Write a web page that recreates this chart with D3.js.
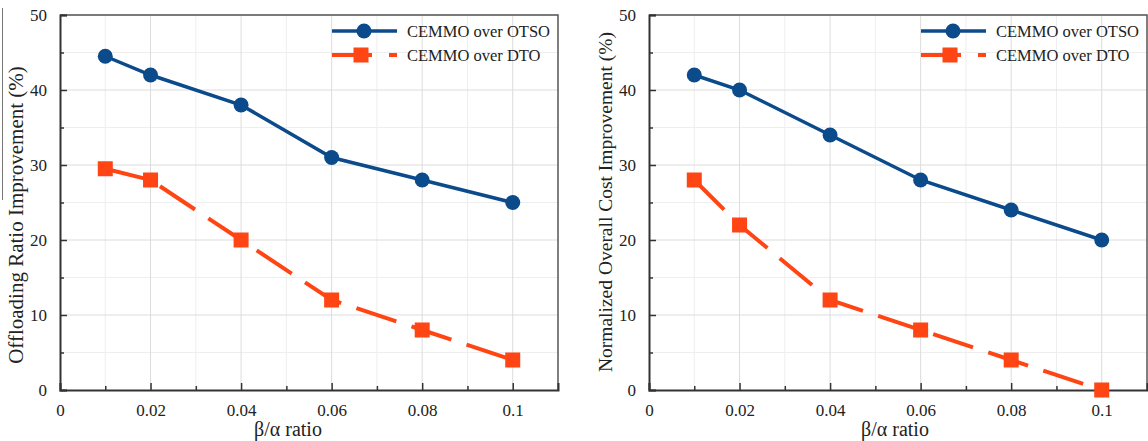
<!DOCTYPE html>
<html>
<head>
<meta charset="utf-8">
<script src="https://cdn.jsdelivr.net/npm/d3@7"></script>
<style>
  html, body { margin: 0; padding: 0; background: #fff; }
  svg { display: block; }
  text { font-family: "Liberation Serif", "Times New Roman", serif; fill: #222; }
</style>
</head>
<body>
<svg id="chart" width="1148" height="441"></svg>
<script>
// ---- Data ----
const betaAlpha = [0.01, 0.02, 0.04, 0.06, 0.08, 0.1];
const seriesNames = ["CEMMO over OTSO", "CEMMO over DTO"];
const offloadOverOTSO = [44.5, 42, 38, 31, 28, 25];
const offloadOverDTO = [29.5, 28, 20, 12, 8, 4];
const costOverOTSO = [42, 40, 34, 28, 24, 20];
const costOverDTO = [28, 22, 12, 8, 4, 0];
const xTickValues = [0, 0.02, 0.04, 0.06, 0.08, 0.1];
const xTickLabels = ["0", "0.02", "0.04", "0.06", "0.08", "0.1"];
const xMinorTicks = [0.01, 0.03, 0.05, 0.07, 0.09];
const yTickValues = [0, 10, 20, 30, 40, 50];
const yMinorTicks = [5, 15, 25, 35, 45];
const xLabel = "β/α ratio";
const yLabelLeft = "Offloading Ratio Improvement (%)";
const yLabelRight = "Normalized Overall Cost Improvement (%)";

const BLUE = "#0b4a8b";
const ORANGE = "#ff4514";
const SERIF = '"Liberation Serif", "Times New Roman", serif';

const svg = d3.select("#chart");

// scanning artifact line at far left
svg.append("line").attr("x1", 2.5).attr("x2", 2.5).attr("y1", 8).attr("y2", 200)
  .attr("stroke", "#777").attr("stroke-width", 1);

function panel(x0, x1, yLabelText, otso, dto, yLabelX, xLabelX, yLabelSize, yLabelCY) {
  const top = 15, bottom = 390;
  const x = d3.scaleLinear().domain([0, 0.11]).range([x0, x1]);
  const y = d3.scaleLinear().domain([0, 50]).range([bottom, top]);
  const g = svg.append("g");

  // grid minor
  g.append("g").selectAll("line").data(xMinorTicks).join("line")
    .attr("x1", d => x(d)).attr("x2", d => x(d)).attr("y1", top).attr("y2", bottom)
    .attr("stroke", "#eeeeee").attr("stroke-width", 1);
  g.append("g").selectAll("line").data(yMinorTicks).join("line")
    .attr("y1", d => y(d)).attr("y2", d => y(d)).attr("x1", x0).attr("x2", x1)
    .attr("stroke", "#eeeeee").attr("stroke-width", 1);
  // grid major
  g.append("g").selectAll("line").data(xTickValues.slice(1)).join("line")
    .attr("x1", d => x(d)).attr("x2", d => x(d)).attr("y1", top).attr("y2", bottom)
    .attr("stroke", "#dcdcdc").attr("stroke-width", 1);
  g.append("g").selectAll("line").data(yTickValues.slice(1)).join("line")
    .attr("y1", d => y(d)).attr("y2", d => y(d)).attr("x1", x0).attr("x2", x1)
    .attr("stroke", "#dcdcdc").attr("stroke-width", 1);

  // frame top/right
  g.append("path")
    .attr("d", `M${x0},${top}H${x1}V${bottom}`)
    .attr("fill", "none").attr("stroke", "#555").attr("stroke-width", 1.5);

  // axes
  const xAxis = d3.axisBottom(x).tickValues(xTickValues)
    .tickFormat((d, i) => xTickLabels[i]).tickSize(-7).tickPadding(14);
  const gx = g.append("g").attr("transform", `translate(0,${bottom})`).call(xAxis);
  gx.select(".domain").attr("stroke", "#333").attr("stroke-width", 2);
  gx.selectAll(".tick line").attr("stroke", "#333").attr("stroke-width", 1.5);
  gx.selectAll(".tick text").style("font-size", "17px").style("fill", "#222")
    .style("font-family", SERIF);
  const gxm = g.append("g").attr("transform", `translate(0,${bottom})`)
    .call(d3.axisBottom(x).tickValues(xMinorTicks).tickSize(-4).tickFormat(""));
  gxm.select(".domain").remove();
  gxm.selectAll(".tick line").attr("stroke", "#333").attr("stroke-width", 1.5);

  const yAxis = d3.axisLeft(y).tickValues(yTickValues).tickSize(-7).tickPadding(13);
  const gy = g.append("g").attr("transform", `translate(${x0},0)`).call(yAxis);
  gy.select(".domain").attr("stroke", "#333").attr("stroke-width", 2);
  gy.selectAll(".tick line").attr("stroke", "#333").attr("stroke-width", 1.5);
  gy.selectAll(".tick text").style("font-size", "17px").style("fill", "#222")
    .style("font-family", SERIF);
  const gym = g.append("g").attr("transform", `translate(${x0},0)`)
    .call(d3.axisLeft(y).tickValues(yMinorTicks).tickSize(-4).tickFormat(""));
  gym.select(".domain").remove();
  gym.selectAll(".tick line").attr("stroke", "#333").attr("stroke-width", 1.5);

  // axis labels
  g.append("text").attr("x", xLabelX).attr("y", 436)
    .attr("text-anchor", "middle").style("font-size", "20px").style("font-family", SERIF).text(xLabel);
  g.append("text")
    .attr("transform", `translate(${yLabelX},${yLabelCY}) rotate(-90)`)
    .attr("text-anchor", "middle").style("font-size", yLabelSize + "px").style("font-family", SERIF)
    .text(yLabelText);

  const line = d3.line().x((d, i) => x(betaAlpha[i])).y(d => y(d));

  // DTO series
  g.append("path").datum(dto).attr("d", line)
    .attr("fill", "none").attr("stroke", ORANGE).attr("stroke-width", 4)
    .attr("stroke-dasharray", "42,16");
  g.append("g").selectAll("rect").data(dto).join("rect")
    .attr("x", (d, i) => x(betaAlpha[i]) - 7.5).attr("y", d => y(d) - 7.5)
    .attr("width", 15).attr("height", 15).attr("fill", ORANGE);

  // OTSO series
  g.append("path").datum(otso).attr("d", line)
    .attr("fill", "none").attr("stroke", BLUE).attr("stroke-width", 3.5);
  g.append("g").selectAll("circle").data(otso).join("circle")
    .attr("cx", (d, i) => x(betaAlpha[i])).attr("cy", d => y(d))
    .attr("r", 7.5).attr("fill", BLUE);

  // legend
  const lx = x0 + 272, ly1 = top + 16, ly2 = top + 40;
  g.append("line").attr("x1", lx).attr("x2", lx + 65).attr("y1", ly1).attr("y2", ly1)
    .attr("stroke", BLUE).attr("stroke-width", 3.5);
  g.append("circle").attr("cx", lx + 32).attr("cy", ly1).attr("r", 7.5).attr("fill", BLUE);
  g.append("line").attr("x1", lx).attr("x2", lx + 65).attr("y1", ly2).attr("y2", ly2)
    .attr("stroke", ORANGE).attr("stroke-width", 4).attr("stroke-dasharray", "40,17");
  g.append("rect").attr("x", lx + 29 - 7.5).attr("y", ly2 - 7.5)
    .attr("width", 15).attr("height", 15).attr("fill", ORANGE);
  g.append("text").attr("x", lx + 75).attr("y", ly1 + 6).style("font-size", "16.5px")
    .style("font-family", SERIF).text(seriesNames[0]);
  g.append("text").attr("x", lx + 75).attr("y", ly2 + 6).style("font-size", "16.5px")
    .style("font-family", SERIF).text(seriesNames[1]);
}

panel(60, 558, yLabelLeft, offloadOverOTSO, offloadOverDTO, 23, 288, 21, 215);
panel(649, 1147, yLabelRight, costOverOTSO, costOverDTO, 612, 895, 19.5, 202);
</script>
</body>
</html>
